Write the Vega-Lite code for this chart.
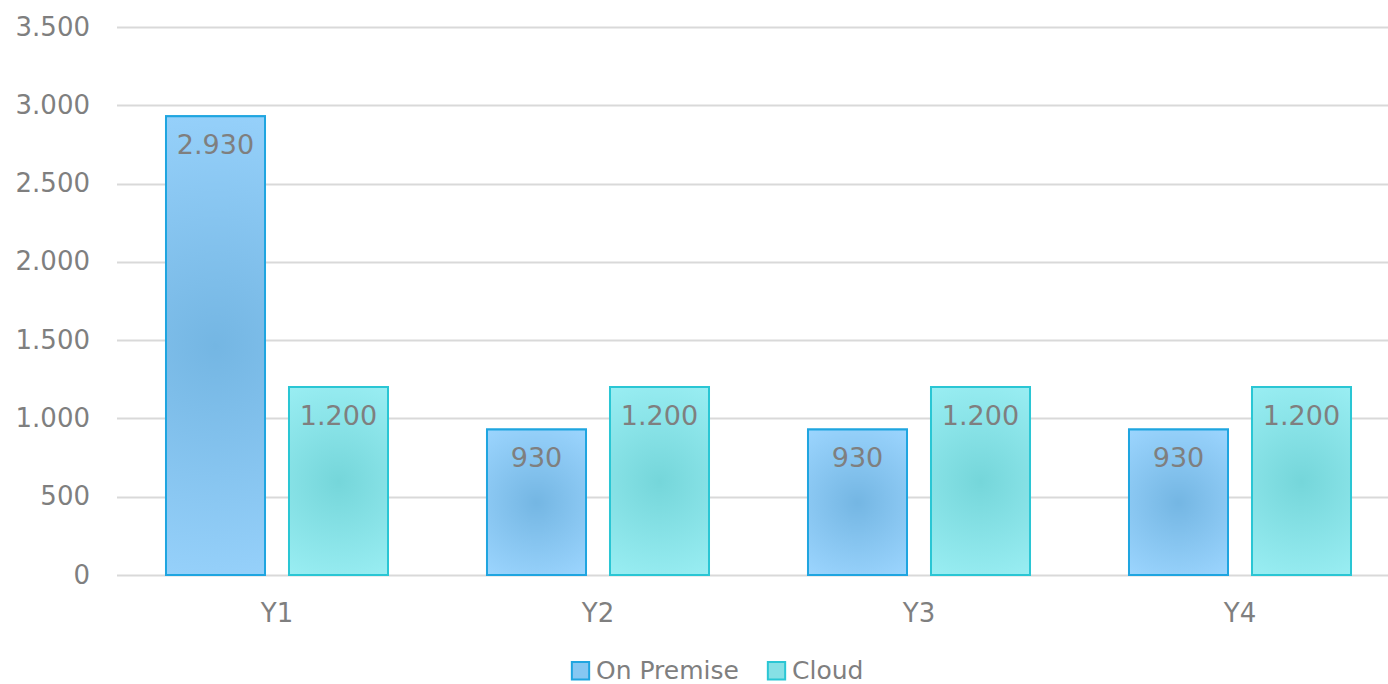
{
  "$schema": "https://vega.github.io/schema/vega-lite/v6.json",
  "width": 1284,
  "height": 548,
  "autosize": {"type": "none"},
  "padding": {"left": 116.5, "top": 27, "right": 0, "bottom": 109},
  "background": "white",
  "config": {
    "locale": {"number": {"decimal": ",", "thousands": ".", "grouping": [3], "currency": ["", " €"]}},
    "font": "DejaVu Sans",
    "view": {"stroke": null}
  },
  "data": {
    "values": [
      {"year": "Y1", "series": "On Premise", "value": 2930},
      {"year": "Y1", "series": "Cloud", "value": 1200},
      {"year": "Y2", "series": "On Premise", "value": 930},
      {"year": "Y2", "series": "Cloud", "value": 1200},
      {"year": "Y3", "series": "On Premise", "value": 930},
      {"year": "Y3", "series": "Cloud", "value": 1200},
      {"year": "Y4", "series": "On Premise", "value": 930},
      {"year": "Y4", "series": "Cloud", "value": 1200}
    ]
  },
  "encoding": {
    "x": {
      "field": "year", "type": "nominal", "title": null,
      "scale": {"paddingInner": 0, "paddingOuter": 0},
      "axis": {"labelAngle": 0, "domain": false, "ticks": false, "grid": false, "labelFontSize": 26, "labelColor": "#7f7f7f", "labelPadding": 25}
    },
    "xOffset": {
      "field": "series", "type": "nominal", "sort": ["On Premise", "Cloud"],
      "scale": {"paddingInner": 0.195, "paddingOuter": 0.4024}
    },
    "y": {
      "field": "value", "type": "quantitative", "title": null,
      "scale": {"domain": [0, 3500], "nice": false},
      "axis": {"values": [0, 500, 1000, 1500, 2000, 2500, 3000, 3500], "format": ",d", "domain": false, "ticks": false, "gridColor": "#d9d9d9", "gridWidth": 2, "labelFontSize": 26, "labelColor": "#7f7f7f", "labelPadding": 27}
    }
  },
  "layer": [
    {
      "mark": {"type": "bar", "strokeWidth": 2},
      "encoding": {
        "fill": {
          "field": "series", "type": "nominal",
          "scale": {"domain": ["On Premise", "Cloud"], "range": ["#86c7f2", "#86e0e5"]},
          "legend": {"title": null, "orient": "none", "direction": "horizontal", "legendX": 451.5, "legendY": 631, "symbolType": "square", "symbolSize": 300, "symbolStrokeWidth": 2, "labelFontSize": 25, "labelColor": "#7f7f7f", "labelOffset": 3, "columnPadding": 24}
        },
        "stroke": {
          "field": "series", "type": "nominal",
          "scale": {"domain": ["On Premise", "Cloud"], "range": ["#1fa5e0", "#2ac6d4"]},
          "legend": {"title": null, "orient": "none", "direction": "horizontal", "legendX": 451.5, "legendY": 631, "symbolType": "square", "symbolSize": 300, "symbolStrokeWidth": 2, "labelFontSize": 25, "labelColor": "#7f7f7f", "labelOffset": 3, "columnPadding": 24}
        }
      }
    },
    {
      "mark": {"type": "bar", "strokeWidth": 2},
      "encoding": {
        "fill": {
          "condition": {
            "test": "datum.series === 'On Premise'",
            "value": {"gradient": "radial", "x1": 0.5, "y1": 0.5, "r1": 0, "x2": 0.5, "y2": 0.5, "r2": 0.62, "stops": [{"offset": 0, "color": "#74b6e3"}, {"offset": 1, "color": "#9dd6ff"}]}
          },
          "value": {"gradient": "radial", "x1": 0.5, "y1": 0.5, "r1": 0, "x2": 0.5, "y2": 0.5, "r2": 0.62, "stops": [{"offset": 0, "color": "#75d6da"}, {"offset": 1, "color": "#9df0f5"}]}
        },
        "stroke": {
          "condition": {"test": "datum.series === 'On Premise'", "value": "#1fa5e0"},
          "value": "#2ac6d4"
        }
      }
    },
    {
      "mark": {"type": "text", "baseline": "middle", "dy": 30, "fontSize": 27, "color": "#7f7f7f"},
      "encoding": {"text": {"field": "value", "type": "quantitative", "format": ",d"}}
    }
  ]
}
